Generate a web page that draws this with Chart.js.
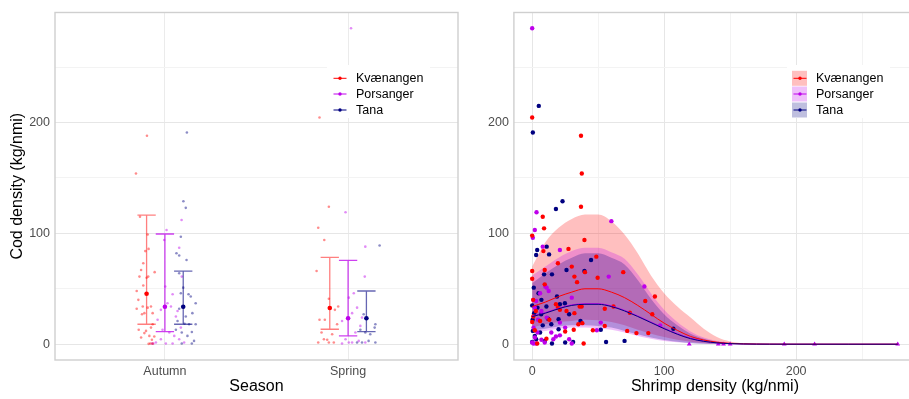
<!DOCTYPE html>
<html><head><meta charset="utf-8">
<script src="https://cdn.jsdelivr.net/npm/chart.js@4.4.1/dist/chart.umd.min.js"></script>
<style>
html,body{margin:0;padding:0;background:#fff;}
#wrap{position:relative;width:909px;height:399px;overflow:hidden;background:#fff;}
#c1{position:absolute;left:0;top:0;}
#c2{position:absolute;left:460px;top:0;}
</style></head><body>
<div id="wrap"><canvas id="c1" width="462" height="399"></canvas><canvas id="c2" width="460" height="399"></canvas></div>
<script>
// ---------------- DATA ----------------
const groups = ['Kvænangen', 'Porsanger', 'Tana'];
const seasons = ['Autumn', 'Spring'];
const yGrid = [0, 50, 100, 150, 200, 250];
const yTickLabels = [0, 100, 200];
const shrimpGrid = [0, 50, 100, 150, 200, 250];
const shrimpTickLabels = [0, 100, 200];

// Left panel: jittered observations [season position incl. jitter, cod density]
const jitterKvaenangen = [[0.902,188],[0.842,154],[0.864,115],[0.906,99],[0.911,86],[0.893,84],[0.882,73],[0.870,67],[0.944,65],[0.900,60],[0.909,61],[0.861,61],[0.882,53],[0.846,48],[0.897,46],[0.855,40],[0.924,34],[0.879,34],[0.846,32],[0.906,33],[0.888,28],[0.875,27],[0.933,28],[0.857,13],[0.897,12],[0.933,18],[0.924,15],[0.870,6],[0.915,7.5],[0.929,4],[0.942,7],[0.888,10],[0.920,0.6],[0.933,0.5],[0.911,0.3],
  [1.844,204.5],[1.895,124],[1.837,105],[1.870,94],[1.828,66],[1.895,41],[1.946,34],[1.928,31],[1.844,22],[1.873,22],[1.940,18],[1.913,9],[1.868,4.5],[1.837,1.5],[1.895,1.5],[1.922,1.5],[1.886,4],[1.855,10.5]];
const jitterPorsanger = [[1.009,103],[0.996,94],[1.091,112],[1.042,45],[1.002,52],[0.978,31],[1.014,37],[1.033,34],[0.960,22],[1.060,25],[0.987,13],[1.024,10.5],[1.051,7.5],[1.087,15],[0.951,1.5],[1.005,0.6],[1.078,4.5],[0.978,4.5],[1.042,0.6],[1.105,1.5],[1.069,30],[1.092,61],[1.078,87],[0.929,0.6],[0.937,0.6],
  [2.016,285],[1.986,119],[2.091,61],[2.004,42],[2.031,46],[2.049,33],[2.022,28],[1.967,21],[2.067,16.5],[2.040,10.5],[1.986,4.5],[2.022,1.5],[2.058,3],[2.094,1.5],[1.967,0.6],[2.004,1.5],[2.076,24],[2.094,88]];
const jitterTana = [[1.120,191],[1.101,129],[1.114,123],[1.087,97],[1.063,82],[1.078,80],[1.118,76],[1.078,64],[1.100,51],[1.129,45],[1.141,43],[1.168,37],[1.087,46],[1.078,32],[1.150,28],[1.114,25],[1.069,21],[1.132,18],[1.168,18],[1.147,11],[1.092,10.5],[1.123,7.5],[1.159,3],[1.092,0.6],[1.147,0.6],[1.060,13],[1.107,18.5],
  [2.172,89],[2.085,27],[2.149,18],[2.145,15],[2.067,13],[2.094,10.5],[2.121,9],[2.076,1.5],[2.112,3],[2.149,1.5],[2.049,1.5]];

// Left panel: means and error bars per season [Autumn, Spring]
const meanKvaenangen = [45.5, 32.6], lowKvaenangen = [18, 13.5], highKvaenangen = [116.5, 78.4];
const meanPorsanger = [33.8, 23.4], lowPorsanger = [11.4, 7.5], highPorsanger = [99.4, 75.7];
const meanTana = [33.8, 23.4], lowTana = [18, 11.4], highTana = [66, 48];

// Right panel: observations [shrimp density, cod density]
const shrimpKvaenangen = [[0,204.5],[37,188],[37.6,154],[37,124],[8,115],[9,104.5],[39.6,94],[0,98],[27.5,86],[8.5,84],[19.5,73],[48.6,79],[30,70],[69,65],[40,65],[9.5,67],[0,66],[32,61],[49.6,60],[0,59],[34,56],[9.5,54],[93,43],[85.7,39],[0.8,40],[18,36],[36,34],[37.5,34],[61.6,34],[55,32],[19.5,33],[91,27],[74,28.4],[32,28],[26,30],[0.8,25],[35,18],[38,19],[55,16.5],[31.5,13],[25,11.4],[46,12.6],[72,12],[79,10],[88,10],[39,0.6],[3.8,0.6],[10.8,5],[2,12.6],[0,20],[6,21],[13,22],[21,31],[2.8,30]];
const shrimpPorsanger = [[0,285],[3.3,119],[2,103],[0.5,96],[60,111],[8,88],[21,85],[58,61],[85,52],[12.5,48],[30,42],[52,19.5],[49,12.6],[30,0.6],[97,17],[0,1.5],[2,6],[4,10.5],[1,15],[4.5,22],[7,30],[11,24],[14.5,10.5],[18,7],[21,8],[2,33],[0.8,40],[6,46],[11,51],[3,39],[21,19.5],[25,15],[9.5,1.5],[7,4],[1,0.6],[3,0.6],[16,4.5],[28,4.5],[10,52]];
const shrimpTana = [[5,215],[0.5,191],[23,129],[18,122],[11,88],[3.8,85],[3,80.5],[12.8,81],[44.6,76],[15,63],[26,67],[9,63],[39.6,66],[1.2,51],[4.8,46],[18.8,43],[7,40],[24.8,37],[21,36],[10.8,34],[6.8,27],[28,27],[12,23],[20,22.5],[36.6,21],[14.5,18],[20,13.5],[52,13],[107,14],[56,2],[70,3],[25,1.5],[31,2],[9.5,3],[15,0.6],[2,7.5],[6,10.5],[0.3,22],[3,4.5],[0,35],[0.5,12],[1.5,28],[4,33],[8,17],[0,2]];
const porsangerZeroShrimp = [119, 141, 145, 150, 191, 214, 277];
const porsangerZeroCod = [0, 0, 0, 0, 0, 0, 0];

// Right panel: fitted curves with confidence bands
const fitX = [0,10,20,30,40,50,60,70,80,90,100,110,120,130,140,150,160,170,180,200,240,277];
const fitKvaenangen = [34,38,43,47,50,50,47,42,35,27,19,12.5,7,3.8,1.8,0.8,0.35,0.15,0.06,0.01,0,0];
const loKvaenangen  = [15,18,20,21,22,21.5,20,17,13,9.5,6.5,4,2.2,1.1,0.5,0.2,0.08,0.03,0.01,0,0,0];
const hiKvaenangen  = [70,92,105,113,117,117,111,99,82,62,46,34,24,14,6.5,2.5,1,0.4,0.15,0.02,0,0];
const fitPorsanger  = [25.5,28.5,32.5,35.5,36.5,36.5,34.5,30.5,25.5,20,14.5,9.5,5.5,2.8,1.3,0.55,0.22,0.09,0.04,0.01,0,0];
const loPorsanger   = [10,12,14,15,15,14.5,13,10.5,7.5,5,3,1.8,0.9,0.4,0.18,0.07,0.03,0.01,0,0,0,0];
const hiPorsanger   = [62,70,78,84,87,87,83,77,63,46,31,20,11.5,6,2.8,1.1,0.45,0.18,0.07,0.01,0,0];
const fitTana       = [25,28,32,35,36,36,34,30,25,19.5,14,9,5,2.6,1.2,0.5,0.2,0.08,0.03,0.005,0,0];
const loTana        = [12,14,16,17,17,16.5,15,12,9,6,3.8,2.2,1.1,0.5,0.22,0.09,0.03,0.01,0,0,0,0];
const hiTana        = [55,64,72,78,82,82,78,72,58,41,27,17,9.5,5,2.3,0.9,0.35,0.14,0.05,0.01,0,0];

// ---------------- STYLE ----------------
const rgb = [[255,0,0],[190,0,235],[0,0,128]];
const col = (i, a) => `rgba(${rgb[i][0]},${rgb[i][1]},${rgb[i][2]},${a})`;
const FONT = 'Liberation Sans, Arial, sans-serif';
const barAlpha = [0.5, 0.75, 0.6];
const bandAlpha = 0.25;
const dodge = [-0.1, 0, 0.1];
const capHalf = 0.05;

const toXY = arr => arr.map(p => ({x: p[0], y: p[1]}));
const zipXY = (xs, ys) => xs.map((x, i) => ({x, y: ys[i]}));

function gridColor(c) {
  if (!c.tick) return '#EBEBEB';
  return (c.tick.value % 100 === 0) ? '#E6E6E6' : '#F3F3F3';
}

function yScale(width) {
  return {
    type: 'linear', min: -14.25, max: 299.25, bounds: 'data',
    afterBuildTicks: s => { s.ticks = yGrid.map(v => ({value: v})); },
    afterFit: s => { s.width = width; },
    ticks: { autoSkip: false, padding: 5, color: '#4D4D4D', font: {family: FONT, size: 12.5},
      callback: v => yTickLabels.includes(v) ? String(v) : '' },
    grid: { color: gridColor, drawTicks: false, lineWidth: 1 },
    border: { display: false }
  };
}

function legendPlugin(id, withFill) {
  return {
    id,
    afterDraw(chart) {
      const {ctx, chartArea: a} = chart;
      ctx.save();
      ctx.strokeStyle = '#CFCFCF'; ctx.lineWidth = 1.4;
      ctx.strokeRect(a.left, a.top, a.right - a.left, a.bottom - a.top);
      ctx.fillStyle = '#fff';
      ctx.fillRect(327, 65, 103, 53);
      const rows = [78.3, 94, 110];
      groups.forEach((g, i) => {
        const yc = rows[i];
        if (withFill) {
          ctx.fillStyle = col(i, bandAlpha);
          ctx.fillRect(332, yc - 7.5, 15, 15);
        }
        ctx.strokeStyle = col(i, 1); ctx.lineWidth = 1;
        ctx.beginPath(); ctx.moveTo(333.5, yc); ctx.lineTo(346.5, yc); ctx.stroke();
        ctx.fillStyle = col(i, 1);
        ctx.beginPath(); ctx.arc(340, yc, 1.7, 0, Math.PI * 2); ctx.fill();
        ctx.fillStyle = '#000';
        ctx.font = `12.5px ${FONT}`;
        ctx.textBaseline = 'middle'; ctx.textAlign = 'left';
        ctx.fillText(g, 356, yc + 0.5);
      });
      ctx.restore();
    }
  };
}

// ---------------- LEFT CHART ----------------
const means = [meanKvaenangen, meanPorsanger, meanTana];
const lows = [lowKvaenangen, lowPorsanger, lowTana];
const highs = [highKvaenangen, highPorsanger, highTana];
const meanPoints = [], meanColors = [];
groups.forEach((g, gi) => seasons.forEach((s, si) => {
  meanPoints.push({x: si + 1 + dodge[gi], y: means[gi][si]});
  meanColors.push(col(gi, 1));
}));

const errorBarPlugin = {
  id: 'errbars',
  beforeDatasetDraw(chart, args) {
    if (args.index !== 3) return;
    const xs = chart.scales.x, ys = chart.scales.y, ctx = chart.ctx;
    ctx.save();
    groups.forEach((g, gi) => {
      ctx.strokeStyle = col(gi, barAlpha[gi]); ctx.lineWidth = 1.3;
      ctx.beginPath();
      seasons.forEach((s, si) => {
        const xc = si + 1 + dodge[gi];
        const px = xs.getPixelForValue(xc);
        const pl = xs.getPixelForValue(xc - capHalf), pr = xs.getPixelForValue(xc + capHalf);
        const yl = ys.getPixelForValue(lows[gi][si]), yh = ys.getPixelForValue(highs[gi][si]);
        ctx.moveTo(px, yl); ctx.lineTo(px, yh);
        ctx.moveTo(pl, yl); ctx.lineTo(pr, yl);
        ctx.moveTo(pl, yh); ctx.lineTo(pr, yh);
      });
      ctx.stroke();
    });
    ctx.restore();
  }
};

const jitterSets = [jitterKvaenangen, jitterPorsanger, jitterTana];
new Chart(document.getElementById('c1'), {
  type: 'scatter',
  data: { datasets: [
    ...jitterSets.map((d, i) => ({
      label: groups[i], data: toXY(d), order: 5,
      pointRadius: 1.3, pointBorderWidth: 0, pointBackgroundColor: col(i, 0.45), pointStyle: 'circle'
    })),
    { label: 'mean', data: meanPoints, order: 0, pointRadius: 2.3, pointBorderWidth: 0, pointBackgroundColor: meanColors }
  ]},
  options: {
    responsive: false, animation: false, events: [],
    layout: { padding: { top: 12, right: 2, left: 0, bottom: 0 } },
    plugins: { legend: { display: false }, tooltip: { enabled: false } },
    scales: {
      x: {
        type: 'linear', min: 0.4, max: 2.6, bounds: 'data',
        afterBuildTicks: s => { s.ticks = seasons.map((_, i) => ({value: i + 1})); },
        afterFit: s => { s.height = 39; },
        ticks: { autoSkip: false, maxRotation: 0, padding: 4, color: '#4D4D4D', font: {family: FONT, size: 12.5},
          callback: v => seasons[v - 1] || '' },
        grid: { color: '#EBEBEB', drawTicks: false },
        border: { display: false },
        title: { display: true, text: 'Season', color: '#000', font: {family: FONT, size: 16, lineHeight: 1.2}, padding: {top: 0, bottom: 2.4} }
      },
      y: Object.assign(yScale(55), {
        title: { display: true, text: 'Cod density (kg/nmi)', color: '#000', font: {family: FONT, size: 16, lineHeight: 1.2}, padding: {top: 8.4, bottom: 0} }
      })
    }
  },
  plugins: [errorBarPlugin, legendPlugin('leg1', false)]
});

// ---------------- RIGHT CHART ----------------
const fits = [fitKvaenangen, fitPorsanger, fitTana];
const los = [loKvaenangen, loPorsanger, loTana];
const his = [hiKvaenangen, hiPorsanger, hiTana];
const shrimpSets = [shrimpKvaenangen, shrimpPorsanger, shrimpTana];
const fitOrder = [1, 2, 0];

const bandDatasets = [];
[2, 1, 0].forEach(gi => {
  const lowIdx = bandDatasets.length;
  bandDatasets.push({ type: 'line', label: groups[gi] + ' lo', data: zipXY(fitX, los[gi]), order: 20,
    borderWidth: 0, pointRadius: 0, fill: false, cubicInterpolationMode: 'monotone', borderColor: 'rgba(0,0,0,0)' });
  bandDatasets.push({ type: 'line', label: groups[gi] + ' hi', data: zipXY(fitX, his[gi]), order: 20,
    borderWidth: 0, pointRadius: 0, fill: { target: lowIdx }, backgroundColor: col(gi, bandAlpha),
    cubicInterpolationMode: 'monotone', borderColor: 'rgba(0,0,0,0)' });
});

new Chart(document.getElementById('c2'), {
  type: 'scatter',
  data: { datasets: [
    ...bandDatasets,
    ...[0, 1, 2].map(gi => ({ type: 'line', label: groups[gi] + ' fit', data: zipXY(fitX, fits[gi]), order: fitOrder[gi],
      borderColor: col(gi, 1), borderWidth: 1, pointRadius: 0, fill: false, cubicInterpolationMode: 'monotone' })),
    ...[2, 1, 0].map(gi => ({ label: groups[gi], data: toXY(shrimpSets[gi]), order: 5 + gi,
      pointRadius: 2.2, pointBorderWidth: 0, pointBackgroundColor: col(gi, 1) })),
    { label: 'Porsanger zero', data: zipXY(porsangerZeroShrimp, porsangerZeroCod), order: 4,
      pointStyle: 'triangle', pointRadius: 2.8, pointBorderWidth: 0, pointBackgroundColor: col(1, 1) }
  ]},
  options: {
    responsive: false, animation: false, events: [],
    layout: { padding: { top: 12, right: 1, left: 0, bottom: 0 } },
    plugins: { legend: { display: false }, tooltip: { enabled: false }, filler: { drawTime: 'beforeDatasetsDraw' } },
    scales: {
      x: {
        type: 'linear', min: -13.85, max: 290.85, bounds: 'data',
        afterBuildTicks: s => { s.ticks = shrimpGrid.map(v => ({value: v})); },
        afterFit: s => { s.height = 39; },
        ticks: { autoSkip: false, maxRotation: 0, padding: 4, color: '#4D4D4D', font: {family: FONT, size: 12.5},
          callback: v => shrimpTickLabels.includes(v) ? String(v) : '' },
        grid: { color: gridColor, drawTicks: false },
        border: { display: false },
        title: { display: true, text: 'Shrimp density (kg/nmi)', color: '#000', font: {family: FONT, size: 16, lineHeight: 1.2}, padding: {top: 0, bottom: 2.4} }
      },
      y: yScale(53.9)
    }
  },
  plugins: [legendPlugin('leg2', true)]
});
</script>
</body></html>
